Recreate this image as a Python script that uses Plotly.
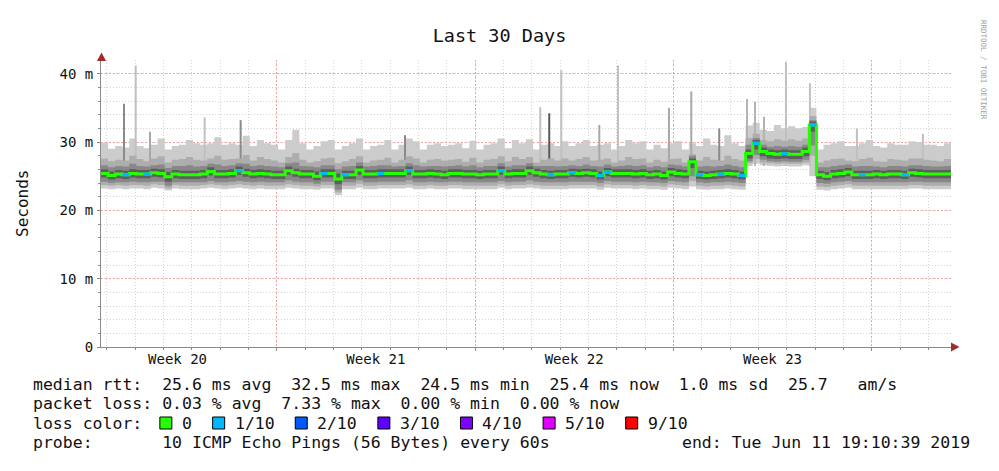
import pandas as pd
import plotly.graph_objects as go

# ---------------- data ----------------
START = "2019-05-12 19:10:39"
END = "2019-06-11 19:10:39"
BIN_FREQ = "6h"

# median RTT per 6-hour bin (ms)
median_rtt = [
    25.4, 25.1, 25.3, 25.2, 25.4, 25.3, 25.3, 25.5, 25.4, 24.9, 25.3, 25.2,
    25.2, 25.2, 25.3, 25.7, 25.3, 25.3, 25.4, 25.8, 25.5, 25.3, 25.4, 25.3,
    25.2, 25.2, 25.8, 25.5, 25.3, 25.3, 25.0, 25.4, 25.4, 24.6, 25.2, 25.2,
    25.9, 25.3, 25.3, 25.4, 25.4, 25.4, 25.4, 25.8, 25.3, 25.3, 25.4, 25.3,
    25.2, 25.4, 25.4, 25.3, 25.3, 25.2, 25.3, 25.3, 25.8, 25.3, 25.4, 25.4,
    25.8, 25.5, 25.3, 25.2, 25.3, 25.3, 25.5, 25.4, 25.5, 25.4, 25.1, 25.6,
    25.4, 25.4, 25.4, 25.3, 25.4, 25.2, 25.3, 25.1, 25.6, 25.4, 25.3, 27.1,
    25.2, 25.1, 25.2, 25.3, 25.4, 25.3, 25.1, 28.3, 29.8, 28.6, 28.3, 28.2,
    28.3, 28.2, 28.2, 28.6, 32.5, 25.2, 25.0, 25.3, 25.4, 25.6, 25.2, 25.2,
    25.2, 25.3, 25.2, 25.3, 25.3, 25.2, 25.5, 25.4, 25.3, 25.3, 25.3, 25.3,
]

# sorted ping quantiles (10 pings) per bin: ping10 = max ... ping1 = min (ms)
ping10 = [
    29.9, 29.0, 29.4, 29.2, 30.5, 29.4, 29.1, 29.6, 30.5, 28.9, 29.4, 29.6,
    30.3, 29.8, 29.6, 29.8, 30.7, 29.6, 29.8, 29.6, 30.9, 29.4, 30.3, 29.8,
    29.6, 28.9, 30.3, 31.8, 29.8, 28.9, 29.4, 30.1, 30.3, 28.9, 29.4, 29.8,
    30.5, 28.9, 29.4, 29.6, 30.3, 28.9, 29.6, 30.5, 30.1, 28.9, 29.6, 29.8,
    29.4, 29.6, 29.8, 29.1, 30.2, 28.9, 29.6, 29.8, 30.5, 29.1, 30.3, 29.8,
    30.4, 28.9, 29.6, 29.8, 29.4, 30.1, 29.4, 29.8, 30.3, 29.4, 29.6, 29.8,
    28.9, 29.4, 30.3, 29.8, 30.1, 28.9, 29.6, 29.1, 29.8, 30.1, 28.9, 29.8,
    29.4, 30.5, 29.6, 29.4, 31.0, 29.8, 29.4, 32.4, 32.8, 31.8, 31.6, 32.5,
    32.0, 32.3, 32.0, 32.2, 35.0, 28.9, 29.6, 29.8, 30.1, 29.4, 29.4, 29.8,
    30.3, 29.4, 29.2, 29.8, 29.6, 29.6, 30.1, 30.0, 29.6, 29.6, 29.4, 29.8,
]
ping9 = [
    27.6, 27.2, 27.4, 27.3, 28.0, 27.5, 27.2, 27.6, 27.9, 27.0, 27.4, 27.5,
    27.8, 27.4, 27.3, 27.6, 28.0, 27.4, 27.5, 27.6, 28.1, 27.3, 27.8, 27.5,
    27.3, 27.0, 27.8, 28.4, 27.4, 27.0, 27.2, 27.6, 27.7, 26.9, 27.2, 27.5,
    27.9, 27.0, 27.3, 27.4, 27.7, 27.0, 27.4, 27.9, 27.6, 27.0, 27.4, 27.5,
    27.3, 27.4, 27.5, 27.1, 27.7, 27.0, 27.4, 27.5, 27.9, 27.2, 27.8, 27.5,
    27.8, 27.0, 27.4, 27.6, 27.3, 27.6, 27.3, 27.5, 27.8, 27.3, 27.4, 27.6,
    27.0, 27.3, 27.8, 27.5, 27.6, 27.0, 27.4, 27.1, 27.5, 27.6, 27.0, 28.2,
    27.3, 27.8, 27.4, 27.3, 28.0, 27.5, 27.3, 30.6, 31.2, 30.3, 30.1, 30.4,
    30.2, 30.4, 30.2, 30.5, 33.8, 27.0, 27.3, 27.5, 27.6, 27.3, 27.2, 27.5,
    27.7, 27.2, 27.1, 27.5, 27.4, 27.3, 27.6, 27.6, 27.4, 27.3, 27.2, 27.5,
]
ping8 = [
    26.6, 26.3, 26.5, 26.4, 26.8, 26.5, 26.4, 26.6, 26.7, 26.2, 26.5, 26.5,
    26.6, 26.4, 26.5, 26.8, 26.7, 26.5, 26.6, 26.9, 26.8, 26.5, 26.6, 26.5,
    26.4, 26.3, 26.9, 27.0, 26.5, 26.4, 26.3, 26.6, 26.6, 26.0, 26.4, 26.5,
    27.0, 26.4, 26.5, 26.6, 26.6, 26.4, 26.5, 26.9, 26.6, 26.4, 26.5, 26.5,
    26.4, 26.5, 26.6, 26.4, 26.6, 26.3, 26.5, 26.5, 26.9, 26.4, 26.6, 26.6,
    26.9, 26.5, 26.5, 26.5, 26.4, 26.5, 26.6, 26.5, 26.7, 26.5, 26.4, 26.7,
    26.4, 26.5, 26.6, 26.5, 26.6, 26.3, 26.5, 26.3, 26.7, 26.6, 26.4, 28.0,
    26.4, 26.5, 26.4, 26.5, 26.7, 26.5, 26.3, 29.6, 30.6, 29.6, 29.3, 29.4,
    29.3, 29.4, 29.3, 29.6, 33.2, 26.3, 26.3, 26.5, 26.6, 26.7, 26.4, 26.5,
    26.5, 26.4, 26.3, 26.5, 26.5, 26.4, 26.6, 26.6, 26.5, 26.4, 26.4, 26.5,
]
ping7 = [
    26.0, 25.7, 25.9, 25.8, 26.0, 25.9, 25.9, 26.1, 26.0, 25.6, 25.9, 25.8,
    25.8, 25.8, 25.9, 26.3, 25.9, 25.9, 26.0, 26.4, 26.1, 25.9, 26.0, 25.9,
    25.8, 25.8, 26.4, 26.1, 25.9, 25.9, 25.7, 26.0, 26.0, 25.4, 25.8, 25.8,
    26.5, 25.9, 25.9, 26.0, 26.0, 26.0, 26.0, 26.4, 25.9, 25.9, 26.0, 25.9,
    25.8, 26.0, 26.0, 25.9, 25.9, 25.8, 25.9, 25.9, 26.4, 25.9, 26.0, 26.0,
    26.4, 26.1, 25.9, 25.8, 25.9, 25.9, 26.1, 26.0, 26.1, 26.0, 25.7, 26.2,
    26.0, 26.0, 26.0, 25.9, 26.0, 25.8, 25.9, 25.7, 26.2, 26.0, 25.9, 27.6,
    25.8, 25.7, 25.8, 25.9, 26.0, 25.9, 25.7, 28.9, 30.3, 29.2, 28.9, 28.8,
    28.9, 28.8, 28.8, 29.2, 33.0, 25.8, 25.6, 25.9, 26.0, 26.2, 25.8, 25.8,
    25.8, 25.9, 25.8, 25.9, 25.9, 25.8, 26.1, 26.0, 25.9, 25.9, 25.9, 25.9,
]
ping4 = [
    24.8, 24.5, 24.7, 24.6, 24.8, 24.7, 24.7, 24.9, 24.8, 24.2, 24.7, 24.6,
    24.6, 24.6, 24.7, 25.1, 24.7, 24.7, 24.8, 25.2, 24.9, 24.7, 24.8, 24.7,
    24.6, 24.6, 25.2, 24.9, 24.7, 24.7, 24.4, 24.8, 24.8, 23.8, 24.6, 24.6,
    25.2, 24.7, 24.7, 24.8, 24.8, 24.8, 24.8, 25.2, 24.7, 24.7, 24.8, 24.7,
    24.6, 24.8, 24.8, 24.7, 24.7, 24.6, 24.7, 24.7, 25.2, 24.7, 24.8, 24.8,
    25.2, 24.9, 24.7, 24.6, 24.7, 24.7, 24.9, 24.8, 24.9, 24.8, 24.5, 25.0,
    24.8, 24.8, 24.8, 24.7, 24.8, 24.6, 24.7, 24.5, 25.0, 24.8, 24.7, 26.2,
    24.6, 24.5, 24.6, 24.7, 24.8, 24.7, 24.5, 27.6, 28.9, 27.9, 27.6, 27.5,
    27.6, 27.5, 27.5, 27.9, 31.5, 24.6, 24.4, 24.7, 24.8, 25.0, 24.6, 24.6,
    24.6, 24.7, 24.6, 24.7, 24.7, 24.6, 24.9, 24.8, 24.7, 24.7, 24.7, 24.7,
]
ping3 = [
    24.2, 24.0, 24.1, 24.1, 24.2, 24.1, 24.1, 24.2, 24.2, 23.6, 24.1, 24.1,
    24.1, 24.1, 24.1, 24.3, 24.1, 24.1, 24.2, 24.3, 24.2, 24.1, 24.2, 24.1,
    24.1, 24.1, 24.4, 24.2, 24.1, 24.1, 23.9, 24.2, 24.2, 23.0, 24.1, 24.1,
    24.4, 24.1, 24.1, 24.2, 24.2, 24.2, 24.2, 24.4, 24.1, 24.1, 24.2, 24.1,
    24.1, 24.2, 24.2, 24.1, 24.1, 24.1, 24.1, 24.1, 24.3, 24.1, 24.2, 24.2,
    24.4, 24.2, 24.1, 24.1, 24.1, 24.1, 24.2, 24.2, 24.2, 24.2, 24.0, 24.3,
    24.2, 24.2, 24.2, 24.1, 24.2, 24.1, 24.1, 24.0, 24.3, 24.2, 24.1, 25.0,
    24.1, 24.0, 24.1, 24.1, 24.2, 24.1, 24.0, 27.2, 28.1, 27.4, 27.2, 27.1,
    27.2, 27.1, 27.1, 27.4, 29.5, 24.0, 23.9, 24.1, 24.2, 24.3, 24.1, 24.1,
    24.1, 24.1, 24.1, 24.1, 24.1, 24.1, 24.2, 24.2, 24.1, 24.1, 24.1, 24.1,
]
ping2 = [
    23.7, 23.6, 23.7, 23.6, 23.7, 23.7, 23.6, 23.8, 23.7, 23.2, 23.7, 23.6,
    23.6, 23.6, 23.7, 23.8, 23.7, 23.6, 23.7, 23.8, 23.7, 23.6, 23.7, 23.6,
    23.6, 23.6, 23.8, 23.7, 23.6, 23.6, 23.5, 23.7, 23.7, 22.6, 23.6, 23.6,
    23.9, 23.6, 23.6, 23.7, 23.7, 23.7, 23.7, 23.8, 23.6, 23.6, 23.7, 23.6,
    23.6, 23.7, 23.7, 23.6, 23.6, 23.6, 23.6, 23.6, 23.8, 23.6, 23.7, 23.7,
    23.8, 23.7, 23.6, 23.6, 23.6, 23.6, 23.7, 23.7, 23.7, 23.7, 23.5, 23.8,
    23.7, 23.7, 23.7, 23.6, 23.7, 23.6, 23.6, 23.5, 23.8, 23.7, 23.6, 24.3,
    23.6, 23.5, 23.6, 23.6, 23.7, 23.6, 23.5, 26.9, 27.5, 27.0, 26.9, 26.8,
    26.9, 26.8, 26.8, 27.0, 28.0, 23.5, 23.4, 23.6, 23.7, 23.8, 23.6, 23.6,
    23.6, 23.6, 23.6, 23.6, 23.6, 23.6, 23.7, 23.7, 23.6, 23.6, 23.6, 23.6,
]
ping1 = [
    23.2, 23.1, 23.2, 23.1, 23.2, 23.2, 23.1, 23.3, 23.2, 22.9, 23.2, 23.1,
    23.1, 23.1, 23.2, 23.3, 23.2, 23.1, 23.2, 23.3, 23.2, 23.1, 23.2, 23.1,
    23.1, 23.1, 23.3, 23.2, 23.1, 23.1, 23.0, 23.2, 23.2, 22.2, 23.1, 23.1,
    23.3, 23.1, 23.1, 23.2, 23.2, 23.2, 23.2, 23.3, 23.1, 23.1, 23.2, 23.1,
    23.1, 23.2, 23.2, 23.1, 23.1, 23.1, 23.1, 23.1, 23.3, 23.1, 23.2, 23.2,
    23.3, 23.2, 23.1, 23.1, 23.1, 23.1, 23.2, 23.2, 23.2, 23.2, 23.0, 23.3,
    23.2, 23.2, 23.2, 23.1, 23.2, 23.1, 23.1, 23.0, 23.3, 23.2, 23.1, 23.5,
    23.1, 23.0, 23.1, 23.1, 23.2, 23.1, 23.0, 26.5, 26.8, 26.6, 26.5, 26.4,
    26.5, 26.4, 26.4, 26.6, 25.0, 23.0, 22.9, 23.1, 23.2, 23.3, 23.1, 23.1,
    23.1, 23.1, 23.1, 23.1, 23.1, 23.1, 23.2, 23.2, 23.1, 23.1, 23.1, 23.1,
]

# packet loss per bin, in tenths (0 = none, 1 = 1/10 ...)
loss_tenths = [
    0, 0, 0, 1, 0, 0, 1, 0, 0, 0, 0, 0,
    0, 0, 0, 0, 0, 0, 0, 1, 0, 0, 0, 0,
    0, 0, 0, 0, 0, 0, 0, 1, 0, 0, 1, 0,
    0, 0, 0, 1, 0, 0, 0, 1, 0, 0, 0, 0,
    0, 0, 0, 0, 0, 0, 0, 0, 1, 0, 0, 0,
    0, 0, 0, 1, 0, 0, 1, 0, 0, 0, 1, 1,
    0, 0, 0, 0, 0, 0, 0, 0, 0, 0, 0, 0,
    1, 0, 0, 1, 0, 0, 1, 0, 1, 0, 0, 0,
    1, 0, 0, 0, 1, 0, 0, 0, 0, 0, 0, 1,
    0, 0, 0, 0, 0, 1, 0, 0, 0, 0, 0, 0,
]

# short-lived max-ping spikes
spike_times = [
    "2019-05-13 14:40", "2019-05-14 00:34", "2019-05-14 12:40", "2019-05-16 10:58",
    "2019-05-17 17:28", "2019-05-23 12:40", "2019-05-28 07:16", "2019-05-28 14:52",
    "2019-05-29 01:04", "2019-05-30 09:16", "2019-05-31 01:04", "2019-06-01 20:16",
    "2019-06-02 15:10", "2019-06-03 14:52", "2019-06-04 14:22", "2019-06-04 21:10",
    "2019-06-05 04:46", "2019-06-05 23:22", "2019-06-06 19:40", "2019-06-08 11:28",
    "2019-06-10 19:22",
]
spike_tops = [35.6, 41.2, 31.5, 33.6, 33.2, 31.0, 35.1, 34.2, 40.5, 32.5, 41.2,
              35.0, 37.4, 32.0, 36.3, 35.9, 33.7, 41.7, 38.6, 32.0, 31.2]
spike_shades = ["#8a8a8a", "#c0c0c0", "#a8a8a8", "#c0c0c0", "#8a8a8a", "#8a8a8a",
                "#c0c0c0", "#5a5a5a", "#c0c0c0", "#a8a8a8", "#c0c0c0", "#a8a8a8",
                "#a8a8a8", "#8a8a8a", "#b4b4b4", "#b4b4b4", "#b4b4b4", "#c0c0c0",
                "#c0c0c0", "#c0c0c0", "#c0c0c0"]
SPIKE_BASE = 26.5

week_grid_times = ["2019-05-19", "2019-05-26", "2019-06-02", "2019-06-09"]
week_label_times = ["2019-05-15 12:00", "2019-05-22 12:00", "2019-05-29 12:00", "2019-06-05 12:00"]
week_labels = ["Week 20", "Week 21", "Week 22", "Week 23"]

y_tick_vals = [0, 10, 20, 30, 40]
y_tick_text = ["0", "10 m", "20 m", "30 m", "40 m"]
Y_MAX = 42

loss_levels = [0, 1, 2, 3, 4, 5, 9]
loss_labels = ["0", "1/10", "2/10", "3/10", "4/10", "5/10", "9/10"]
loss_colors = ["#26ff00", "#00b8ff", "#0059ff", "#5e00ff", "#7e00ff", "#dd00ff", "#ff0000"]

legend_rows = [
    "median rtt:  25.6 ms avg  32.5 ms max  24.5 ms min  25.4 ms now  1.0 ms sd  25.7   am/s",
    "packet loss: 0.03 % avg  7.33 % max  0.00 % min  0.00 % now",
    "loss color:",
    "probe:       10 ICMP Echo Pings (56 Bytes) every 60s",
]
end_text = "end: Tue Jun 11 19:10:39 2019"
title_text = "Last 30 Days"
y_title = "Seconds"
credit_text = "RRDTOOL / TOBI OETIKER"

smoke_layers = [  # (lower ping, upper ping, colour)
    (ping1, ping10, "#cccccc"),
    (ping2, ping9, "#adadad"),
    (ping3, ping8, "#888888"),
    (ping4, ping7, "#5e5e5e"),
]

# ---------------- geometry ----------------
W, H = 999, 471
PL, PR, PT, PB = 101, 951, 60, 347
FONT = "DejaVu Sans Mono"
CW = 0.6021 * 16.5  # monospace advance at legend font size


def px(x):
    return (x - PL) / (PR - PL)


def py(y):
    return (PB - y) / (PB - PT)


edges = pd.date_range(START, periods=len(median_rtt) + 1, freq=BIN_FREQ)


def stepped(vals):
    return list(vals) + [vals[-1]]


fig = go.Figure()

# smoke: lightest band first, then spikes, then the darker inner bands
for k, (lo, hi, col) in enumerate(smoke_layers):
    fig.add_trace(go.Scatter(x=edges, y=stepped(lo), mode="lines", line=dict(width=0, shape="hv"),
                             hoverinfo="skip", showlegend=False))
    fig.add_trace(go.Scatter(x=edges, y=stepped(hi), mode="lines", line=dict(width=0, shape="hv"),
                             fill="tonexty", fillcolor=col, hoverinfo="skip", showlegend=False))
    if k == 0:
        for t, top, shade in zip(spike_times, spike_tops, spike_shades):
            fig.add_trace(go.Scatter(x=[t, t], y=[SPIKE_BASE, top], mode="lines",
                                     line=dict(width=2, color=shade), hoverinfo="skip", showlegend=False))

# median line, coloured by loss
fig.add_trace(go.Scatter(x=edges, y=stepped(median_rtt), mode="lines",
                         line=dict(width=3, color=loss_colors[0], shape="hv"),
                         hoverinfo="skip", showlegend=False))
color_of = dict(zip(loss_levels, loss_colors))
for lvl in loss_levels[1:]:
    xs, ys = [], []
    for i, (m, l) in enumerate(zip(median_rtt, loss_tenths)):
        if l == lvl:
            xs += [edges[i], edges[i + 1], None]
            ys += [m, m, None]
    if xs:
        fig.add_trace(go.Scatter(x=xs, y=ys, mode="lines", line=dict(width=3, color=color_of[lvl]),
                                 hoverinfo="skip", showlegend=False))

# carrier for the week-label axis
fig.add_trace(go.Scatter(x=week_label_times, y=[0] * len(week_label_times), xaxis="x2",
                         mode="markers", marker=dict(opacity=0), hoverinfo="skip", showlegend=False))

minor_grid = "rgba(120,120,120,0.32)"
major_grid = "rgba(255,60,60,0.42)"
axis_col = "#8a8a8a"

fig.update_layout(
    width=W, height=H, autosize=False,
    margin=dict(l=PL, r=W - PR, t=PT, b=H - PB, pad=0),
    paper_bgcolor="white", plot_bgcolor="white",
    font=dict(family=FONT, color="#000000", size=14),
    showlegend=False,
    title=dict(text=title_text, x=0.5, xref="container", xanchor="center",
               y=1 - 36 / H, yref="container", yanchor="middle",
               font=dict(family=FONT, size=18.5, color="#111111")),
    xaxis=dict(
        range=[START, END], type="date",
        tickmode="array", tickvals=week_grid_times, showticklabels=False,
        showgrid=True, gridcolor=major_grid, griddash="2px,2px", gridwidth=1,
        ticks="outside", ticklen=3, tickcolor=axis_col,
        minor=dict(tickmode="array",
                   tickvals=list(pd.date_range("2019-05-13", "2019-06-11", freq="D")),
                   showgrid=True, gridcolor=minor_grid, griddash="1px,2px", gridwidth=1,
                   ticks="outside", ticklen=2, tickcolor=axis_col),
        showline=True, linecolor=axis_col, linewidth=1, zeroline=False, fixedrange=True,
    ),
    xaxis2=dict(
        overlaying="x", matches="x", anchor="y", side="bottom", type="date",
        tickmode="array", tickvals=week_label_times, ticktext=week_labels,
        showgrid=False, showline=False, zeroline=False, ticks="",
        tickfont=dict(family=FONT, size=14, color="#111111"), ticklabelstandoff=2,
    ),
    yaxis=dict(
        range=[0, Y_MAX], tickmode="array", tickvals=y_tick_vals, ticktext=y_tick_text,
        showgrid=True, gridcolor=major_grid, griddash="2px,2px", gridwidth=1,
        ticks="outside", ticklen=3, tickcolor=axis_col, ticklabelstandoff=1,
        tickfont=dict(family=FONT, size=14, color="#111111"),
        minor=dict(tickmode="array", tickvals=list(range(0, Y_MAX + 1, 2)),
                   showgrid=True, gridcolor=minor_grid, griddash="1px,2px", gridwidth=1,
                   ticks="outside", ticklen=2, tickcolor=axis_col),
        showline=True, linecolor=axis_col, linewidth=1, zeroline=False, fixedrange=True,
    ),
)

shapes = []
arrow_col = "#a12b2b"
# axis arrows
shapes.append(dict(type="path", xref="paper", yref="paper",
                   path=f"M {px(101.5)},{py(52.5)} L {px(97)},{py(61)} L {px(106)},{py(61)} Z",
                   fillcolor=arrow_col, line=dict(width=0)))
shapes.append(dict(type="path", xref="paper", yref="paper",
                   path=f"M {px(959.5)},{py(347)} L {px(951)},{py(342.5)} L {px(951)},{py(351.5)} Z",
                   fillcolor=arrow_col, line=dict(width=0)))

annotations = []
ROW_Y = [384, 403.5, 423, 442.5]
TEXT_X = 30.7
for row, yy in zip(legend_rows, ROW_Y):
    annotations.append(dict(text=row.replace(" ", "\u00a0"), xref="paper", yref="paper",
                            x=px(TEXT_X), y=py(yy), xanchor="left", yanchor="middle",
                            showarrow=False, font=dict(family=FONT, size=16.5, color="#111111")))
annotations.append(dict(text=end_text.replace(" ", "\u00a0"), xref="paper", yref="paper",
                        x=px(972), y=py(ROW_Y[3]), xanchor="right", yanchor="middle",
                        showarrow=False, font=dict(family=FONT, size=16.5, color="#111111")))

# loss colour swatches + labels
sx = TEXT_X + 13 * CW
for lab, col in zip(loss_labels, loss_colors):
    shapes.append(dict(type="rect", xref="paper", yref="paper",
                       x0=px(sx), x1=px(sx + 12), y0=py(ROW_Y[2] + 6), y1=py(ROW_Y[2] - 6),
                       fillcolor=col, line=dict(color="#000000", width=1)))
    annotations.append(dict(text=lab, xref="paper", yref="paper", x=px(sx + 20), y=py(ROW_Y[2]),
                            xanchor="left", yanchor="middle", showarrow=False,
                            font=dict(family=FONT, size=16.5, color="#111111")))
    sx += 12 + 10 + (len(lab) + 2) * CW + 1

annotations.append(dict(text=y_title, xref="paper", yref="paper", x=px(22), y=py(204),
                        xanchor="center", yanchor="middle", textangle=-90, showarrow=False,
                        font=dict(family=FONT, size=16, color="#111111")))
annotations.append(dict(text=credit_text, xref="paper", yref="paper", x=px(984), y=py(70),
                        xanchor="center", yanchor="middle", textangle=90, showarrow=False,
                        font=dict(family=FONT, size=7.5, color="#a0a0a0")))

fig.update_layout(shapes=shapes, annotations=annotations)
fig.write_html("out.html")
